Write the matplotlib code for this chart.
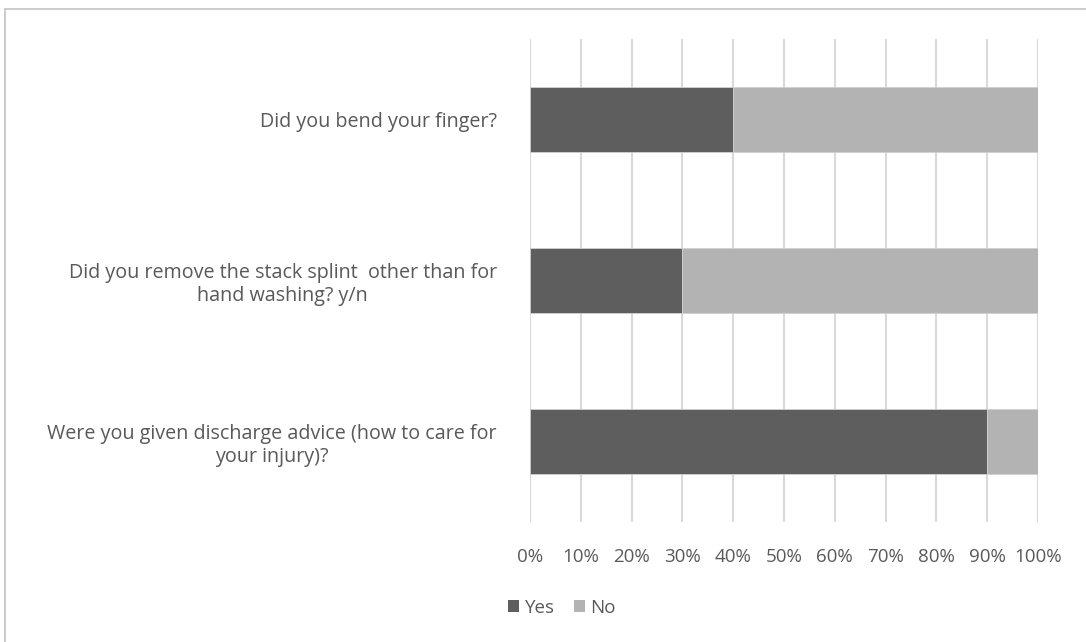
import matplotlib
matplotlib.use("Agg")
import matplotlib.pyplot as plt
from matplotlib.patches import Rectangle, Patch

categories = [
    "Were you given discharge advice (how to care for\nyour injury)?",
    "Did you remove the stack splint  other than for\nhand washing? y/n",
    "Did you bend your finger?",
]
yes_vals = [90, 30, 40]
no_vals = [10, 70, 60]
xticks = [0, 10, 20, 30, 40, 50, 60, 70, 80, 90, 100]
xtick_labels = [f"{v}%" for v in xticks]

plt.rcParams['font.family'] = ['Open Sans', 'DejaVu Sans']
text_color = '#595959'
yes_color = '#5e5e5e'
no_color = '#b3b3b3'
fs = 13.5

fig = plt.figure(figsize=(10.86, 6.42), dpi=100)
ax = fig.add_axes([530/1086, 1-522/642, (1038-530)/1086, (522-39)/642])

# frame around chart area
fig.patches.append(Rectangle((5/1086, -0.05), 1.2, 1-8.5/642+0.05, transform=fig.transFigure,
                             fill=False, edgecolor='#c8c8c8', linewidth=1.3))

y = range(len(categories))
ax.barh(y, yes_vals, height=0.4, color=yes_color, edgecolor='#d0d0d0', linewidth=0.6, label='Yes', zorder=3)
ax.barh(y, no_vals, left=yes_vals, height=0.4, color=no_color, edgecolor='#d0d0d0', linewidth=0.6, label='No', zorder=3)

ax.set_xlim(0, 100)
ax.set_ylim(-0.5, len(categories) - 0.5)
ax.set_xticks(xticks)
ax.set_xticklabels(xtick_labels, fontsize=fs, color=text_color)
ax.set_yticks(list(y))
ax.set_yticklabels(categories, fontsize=14.2, color=text_color, ha='right', multialignment='center',
                   linespacing=1.2)
ax.tick_params(axis='y', length=0, pad=24)
ax.tick_params(axis='x', length=0, pad=19)
ax.xaxis.grid(True, color='#d9d9d9', linewidth=1.5, zorder=0)
ax.set_axisbelow(True)
for s in ax.spines.values():
    s.set_visible(False)

handles = [Patch(facecolor=yes_color, label='Yes'), Patch(facecolor=no_color, label='No')]
fig.legend(handles=handles, loc='center', bbox_to_anchor=(562/1086, 1-608/642), ncol=2,
           frameon=False, fontsize=fs, labelcolor=text_color, handlelength=0.6, handleheight=0.6,
           handletextpad=0.3, columnspacing=1.0)

fig.savefig('out.png', dpi=100)
